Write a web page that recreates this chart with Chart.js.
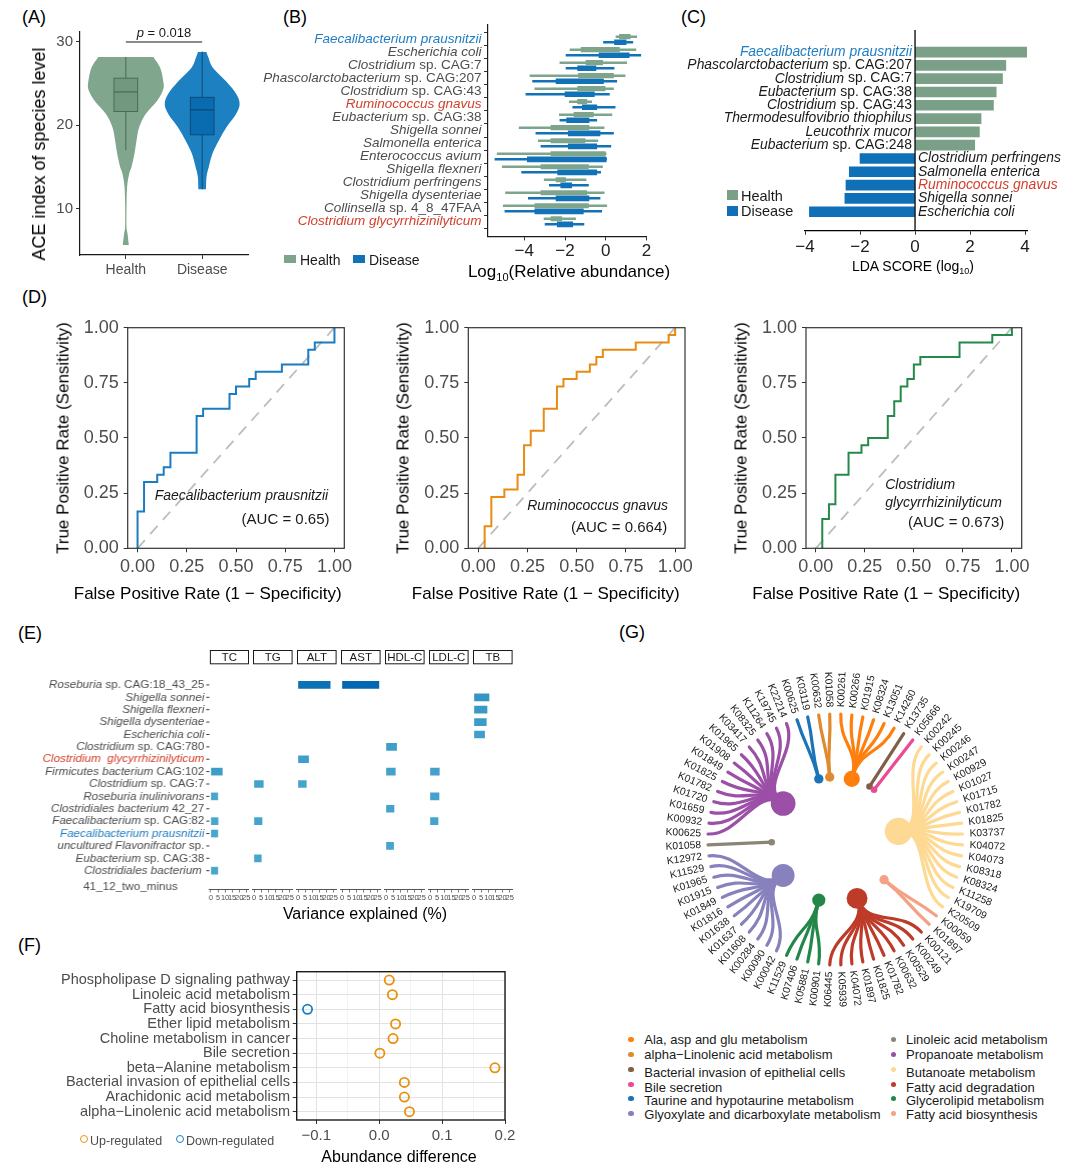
<!DOCTYPE html>
<html>
<head>
<meta charset="utf-8">
<script src="https://cdn.jsdelivr.net/npm/chart.js@4.4.1/dist/chart.umd.min.js"></script>
<style>
html,body{margin:0;padding:0;background:#fff;}
body{position:relative;width:1080px;height:1172px;overflow:hidden;font-family:"Liberation Sans",Arial,sans-serif;}
canvas{position:absolute;}
.t{position:absolute;white-space:nowrap;line-height:1;}
</style>
</head>
<body>
<script>
// ================= DATA =================
// (A) ACE index
const aGroups = ['Health', 'Disease'];
const aHealthViolinValue = [28.2, 26.9, 25.3, 24.3, 22.95, 21.35, 19.76, 18.17, 16.57, 14.98, 14.18, 12.6, 10.2, 7.8, 7.0, 5.6];
const aHealthViolinHalfWidth = [0.36, 0.45, 0.49, 0.49, 0.41, 0.26, 0.175, 0.14, 0.113, 0.074, 0.044, 0.017, 0.009, 0.009, 0.022, 0.04];
const aDiseaseViolinValue = [28.8, 28.1, 26.9, 25.3, 23.7, 22.5, 21.3, 19.8, 18.2, 16.6, 15.0, 13.8, 12.3];
const aDiseaseViolinHalfWidth = [0.055, 0.083, 0.14, 0.31, 0.45, 0.49, 0.44, 0.32, 0.22, 0.135, 0.087, 0.057, 0.05];
const aHealthBox = [17.0, 21.65, 24.0, 25.65, 28.2];   // min, q1, median, q3, max
const aDiseaseBox = [12.3, 18.85, 21.85, 23.35, 28.85];
const aPText = '= 0.018';
const aYTicks = [10, 20, 30];

// (B) log10 relative abundance
const bSpecies = ['*Faecalibacterium prausnitzii*', '*Escherichia coli*', '*Clostridium* sp. CAG:7', '*Phascolarctobacterium* sp. CAG:207',
  '*Clostridium* sp. CAG:43', '*Ruminococcus gnavus*', '*Eubacterium* sp. CAG:38', '*Shigella sonnei*', '*Salmonella enterica*',
  '*Enterococcus avium*', '*Shigella flexneri*', '*Clostridium perfringens*', '*Shigella dysenteriae*', '*Collinsella* sp. 4_8_47FAA',
  '*Clostridium glycyrrhizinilyticum*'];
const bHealthLow  = [0.5, -1.75, -2.25, -3.72, -3.48, -1.79, -2.28, -4.25, -3.31, -5.33, -5.08, -3.02, -4.92, -5.03, -3.03];
const bHealthQ1   = [0.67, -1.21, -0.97, -1.34, -1.38, -1.38, -1.56, -2.69, -2.69, -2.69, -3.18, -2.44, -3.18, -3.48, -2.69];
const bHealthQ3   = [1.2, 0.67, -0.15, 0.38, -0.03, -0.93, -0.61, -0.82, -1.02, 0.0, -0.85, -1.97, -0.93, -0.85, -2.16];
const bHealthHigh = [1.52, 1.48, 1.03, 0.95, 0.38, -0.69, 0.3, -0.08, -0.39, 0.02, -0.16, -0.97, -0.08, 0.05, -1.48];
const bDiseaseLow  = [-0.11, -1.95, -1.95, -3.59, -3.92, -1.62, -2.25, -3.43, -3.18, -5.44, -4.13, -2.77, -3.8, -4.95, -2.98];
const bDiseaseQ1   = [0.43, -0.33, -1.38, -2.44, -2.0, -1.15, -1.92, -1.84, -1.84, -3.85, -2.36, -2.21, -2.44, -3.48, -2.38];
const bDiseaseQ3   = [1.0, 1.15, -0.48, -0.11, -0.56, -0.44, -0.82, -0.28, -0.44, 0.02, -0.44, -1.67, -0.82, -1.1, -1.62];
const bDiseaseHigh = [1.33, 1.72, 0.41, 0.54, 0.18, 0.46, -0.44, 0.38, 0.25, 0.04, -0.25, -0.85, -0.28, -0.2, -1.07];
const bXTicks = [-4, -2, 0, 2];

// (C) LDA scores
const cSpecies = ['*Faecalibacterium prausnitzii*', '*Phascolarctobacterium* sp. CAG:207', '*Clostridium* sp. CAG:7', '*Eubacterium* sp. CAG:38',
  '*Clostridium* sp. CAG:43', '*Thermodesulfovibrio thiophilus*', '*Leucothrix mucor*', '*Eubacterium* sp. CAG:248',
  '*Clostridium perfringens*', '*Salmonella enterica*', '*Ruminococcus gnavus*', '*Shigella sonnei*', '*Escherichia coli*'];
const cLDA = [4.08, 3.30, 3.18, 2.95, 2.85, 2.40, 2.34, 2.17, -2.00, -2.39, -2.51, -2.55, -3.84];
const cXTicks = [-4, -2, 0, 2, 4];

// (D) ROC curves
const dFprFaecali = [0, 0, 0.033, 0.1, 0.133, 0.167, 0.3, 0.333, 0.467, 0.5, 0.567, 0.6, 0.733, 0.867, 0.9, 1.0];
const dTprFaecali = [0, 0.167, 0.3, 0.333, 0.367, 0.433, 0.6, 0.633, 0.7, 0.733, 0.767, 0.8, 0.833, 0.9, 0.933, 1.0];
const dFprRumino = [0.033, 0.033, 0.067, 0.133, 0.2, 0.233, 0.267, 0.333, 0.4, 0.433, 0.5, 0.567, 0.6, 0.633, 0.8, 0.967, 1.0];
const dTprRumino = [0, 0.1, 0.233, 0.267, 0.333, 0.467, 0.533, 0.633, 0.733, 0.767, 0.8, 0.833, 0.867, 0.9, 0.933, 0.967, 1.0];
const dFprClost = [0.033, 0.033, 0.067, 0.1, 0.167, 0.233, 0.267, 0.367, 0.4, 0.433, 0.467, 0.5, 0.533, 0.733, 0.9, 1.0];
const dTprClost = [0, 0.133, 0.2, 0.333, 0.433, 0.467, 0.5, 0.6, 0.667, 0.733, 0.767, 0.833, 0.867, 0.933, 0.967, 1.0];
const dTicks = [0, 0.25, 0.5, 0.75, 1];
const dAUC = ['0.65', '0.664', '0.673'];

// (E) variance explained (%)
const eFacets = ['TC', 'TG', 'ALT', 'AST', 'HDL-C', 'LDL-C', 'TB'];
const eSpecies = ['*Roseburia* sp. CAG:18_43_25', '*Shigella sonnei*', '*Shigella flexneri*', '*Shigella dysenteriae*', '*Escherichia coli*',
  '*Clostridium* sp. CAG:780', '*Clostridium  glycyrrhizinilyticum*', '*Firmicutes bacterium* CAG:102', '*Clostridium* sp. CAG:7',
  '*Roseburia inulinivorans*', '*Clostridiales bacterium* 42_27', '*Faecalibacterium* sp. CAG:82', '*Faecalibacterium prausnitzii*',
  '*uncultured Flavonifractor* sp.', '*Eubacterium* sp. CAG:38', '*Clostridiales bacterium*\n41_12_two_minus'];
const eTC  = [null, null, null, null, null, null, null, 8.1, null, 4.9, null, 5.1, 4.9, null, null, 4.9];
const eTG  = [null, null, null, null, null, null, null, null, 6.5, null, null, 5.6, null, null, 5.1, null];
const eALT = [22.5, null, null, null, null, null, 7.4, null, 5.8, null, null, null, null, null, null, null];
const eAST = [25.8, null, null, null, null, null, null, null, null, null, null, null, null, null, null, null];
const eHDL = [null, null, null, null, null, 7.4, null, 6.5, null, null, 5.6, null, null, 5.3, null, null];
const eLDL = [null, null, null, null, null, null, null, 6.5, null, 6.3, null, 5.6, null, null, null, null];
const eTB  = [null, 10.5, 9.1, 8.6, 7.4, null, null, null, null, null, null, null, null, null, null, null];
const eXTicks = [0, 5, 10, 15, 20, 25];

// (F) KEGG pathway abundance difference
const fPathways = ['Phospholipase D signaling pathway', 'Linoleic acid metabolism', 'Fatty acid biosynthesis', 'Ether lipid metabolism',
  'Choline metabolism in cancer', 'Bile secretion', 'beta\u2212Alanine metabolism', 'Bacterial invasion of epithelial cells',
  'Arachidonic acid metabolism', 'alpha\u2212Linolenic acid metabolism'];
const fDiff = [0.016, 0.021, -0.114, 0.026, 0.022, 0.001, 0.184, 0.040, 0.040, 0.048];
const fXTicks = [-0.1, -0.05, 0, 0.05, 0.1, 0.15, 0.2];

// (G) KO -> pathway tree
const gPathways = ['Ala, asp and glu metabolism', 'alpha\u2212Linolenic acid metabolism', 'Bacterial invasion of epithelial cells', 'Bile secretion',
  'Taurine and hypotaurine metabolism', 'Glyoxylate and dicarboxylate metabolism', 'Linoleic acid metabolism', 'Propanoate metabolism',
  'Butanoate metabolism', 'Fatty acid degradation', 'Glycerolipid metabolism', 'Fatty acid biosynthesis'];
const gAla = ['K00261', 'K00266', 'K01915', 'K08324', 'K13051', 'K14260'];
const gAlphaLin = ['K00632', 'K01058'];
const gBact = ['K13735'];
const gBile = ['K05666'];
const gTaurine = ['K00625', 'K03119'];
const gGlyox = ['K00042', 'K00090', 'K00284', 'K01608', 'K01637', 'K01638', 'K01816', 'K01849', 'K01915', 'K01965', 'K11529', 'K12972'];
const gLinoleic = ['K01058'];
const gPropanoate = ['K00625', 'K00932', 'K01659', 'K01720', 'K01782', 'K01825', 'K01849', 'K01908', 'K01965', 'K03417', 'K08325', 'K11264', 'K19745', 'K22214'];
const gButanoate = ['K00242', 'K00245', 'K00246', 'K00247', 'K00929', 'K01027', 'K01715', 'K01782', 'K01825', 'K03737', 'K04072', 'K04073', 'K08318', 'K08324', 'K11258', 'K19709', 'K20509'];
const gFAdeg = ['K00121', 'K00249', 'K00529', 'K00632', 'K01782', 'K01825', 'K01897', 'K04072', 'K05939', 'K06445'];
const gGlycerolipid = ['K00901', 'K05881', 'K07406', 'K11529'];
const gFAbio = ['K00059', 'K01897'];

// ================= STYLE / SETUP =================
const FONT = '"Liberation Sans", Arial, Helvetica, sans-serif';
const GRAY_TXT = '#4d4d4d';
const BLUE_TXT = '#1f7dc1';
const RED_TXT = '#d2402d';
const HEALTH = '#7fa48c';
const DISEASE = '#1172b8';
const gColors = ['#ff7f0e', '#e08a30', '#7f5f46', '#ec4a93', '#1b74b8', '#8781bd', '#8c8476', '#9b4fa7', '#fdd994', '#bf3b29', '#23874a', '#f3a286'];
const gRing = [gAla, gBact, gBile, gButanoate, gFAbio, gFAdeg, gGlycerolipid, gGlyox, gLinoleic, gPropanoate, gTaurine, gAlphaLin];
const gRingPathway = [0, 2, 3, 8, 11, 9, 10, 5, 6, 7, 4, 1];

Chart.defaults.font.family = FONT;
Chart.defaults.color = GRAY_TXT;
Chart.defaults.animation = false;
Chart.defaults.responsive = false;
Chart.defaults.maintainAspectRatio = false;
Chart.defaults.plugins.legend.display = false;
Chart.defaults.plugins.tooltip.enabled = false;
Chart.defaults.events = [];

// Creates a chart whose plot area lands exactly on `area` (page pixels).
function makeChart(box, area, config) {
  const cv = document.createElement('canvas');
  cv.width = box.w; cv.height = box.h;
  cv.style.left = box.x + 'px'; cv.style.top = box.y + 'px';
  cv.style.width = box.w + 'px'; cv.style.height = box.h + 'px';
  document.body.appendChild(cv);
  config.options = config.options || {};
  const left = area.l - box.x, top = area.t - box.y, right = box.x + box.w - area.r, bottom = box.y + box.h - area.b;
  const pad = { left: left, top: top, right: right, bottom: bottom };
  const scales = config.options.scales || {};
  Object.keys(scales).forEach(k => {
    const s = scales[k];
    if (s.display === false) return;
    if (k === 'x') { pad.bottom = 0; s.afterFit = sc => { sc.height = bottom; }; }
    else { pad.left = 0; s.afterFit = sc => { sc.width = left; }; }
  });
  config.options.layout = { padding: pad };
  return new Chart(cv, config);
}

function txt(html, x, y, o) {
  o = o || {};
  const d = document.createElement('div');
  d.className = 't'; d.innerHTML = html;
  d.style.left = x + 'px'; d.style.top = y + 'px';
  d.style.fontSize = (o.size || 14) + 'px';
  d.style.color = o.color || '#000';
  if (o.italic) d.style.fontStyle = 'italic';
  const ax = o.align === 'left' ? '0%' : (o.align === 'right' ? '-100%' : '-50%');
  d.style.transform = 'translate(' + ax + ',-50%)' + (o.rot ? ' rotate(' + o.rot + 'deg)' : '');
  document.body.appendChild(d);
  return d;
}
function rect(x, y, w, h, css) {
  const d = document.createElement('div');
  d.style.cssText = 'position:absolute;left:' + x + 'px;top:' + y + 'px;width:' + w + 'px;height:' + h + 'px;' + css;
  document.body.appendChild(d);
}

function drawRich(ctx, s, x, y, align, size, color) {
  const segs = [];
  s.split('*').forEach((p, i) => { if (p.length) segs.push({ t: p, it: i % 2 === 1 }); });
  ctx.save();
  ctx.fillStyle = color; ctx.textBaseline = 'middle'; ctx.textAlign = 'left';
  let total = 0;
  segs.forEach(g => { ctx.font = (g.it ? 'italic ' : '') + size + 'px ' + FONT; g.w = ctx.measureText(g.t).width; total += g.w; });
  let cx = align === 'right' ? x - total : (align === 'center' ? x - total / 2 : x);
  segs.forEach(g => { ctx.font = (g.it ? 'italic ' : '') + size + 'px ' + FONT; ctx.fillText(g.t, cx, y); cx += g.w; });
  ctx.restore();
}

const axisGrid = { drawOnChartArea: false, drawTicks: true, tickLength: 4, tickColor: '#333', tickWidth: 1 };
const minusFmt = v => (v < 0 ? '\u2212' : '') + Math.abs(v);
const fixedTicks = arr => (s => { s.ticks = arr.map(v => ({ value: v })); });

// ================= PANEL LABELS =================
txt('(A)', 22, 17, { size: 18, align: 'left' });
txt('(B)', 283, 17, { size: 18, align: 'left' });
txt('(C)', 681, 17, { size: 18, align: 'left' });
txt('(D)', 22, 297, { size: 18, align: 'left' });
txt('(E)', 18, 633, { size: 18, align: 'left' });
txt('(F)', 18, 945, { size: 18, align: 'left' });
txt('(G)', 619, 632, { size: 18, align: 'left' });

// ================= (A) =================
function smoothPath(ctx, pts, first) {
  if (first) ctx.moveTo(pts[0][0], pts[0][1]); else ctx.lineTo(pts[0][0], pts[0][1]);
  for (let i = 0; i < pts.length - 1; i++) {
    const p0 = pts[Math.max(i - 1, 0)], p1 = pts[i], p2 = pts[i + 1], p3 = pts[Math.min(i + 2, pts.length - 1)];
    ctx.bezierCurveTo(p1[0] + (p2[0] - p0[0]) / 6, p1[1] + (p2[1] - p0[1]) / 6,
                      p2[0] - (p3[0] - p1[0]) / 6, p2[1] - (p3[1] - p1[1]) / 6, p2[0], p2[1]);
  }
}
function drawViolin(ctx, xs, ys, cx, vals, hw, color) {
  const right = vals.map((v, i) => [xs.getPixelForValue(cx + hw[i]), ys.getPixelForValue(v)]);
  const left = vals.map((v, i) => [xs.getPixelForValue(cx - hw[i]), ys.getPixelForValue(v)]).reverse();
  ctx.save(); ctx.beginPath();
  smoothPath(ctx, right, true); smoothPath(ctx, left, false);
  ctx.closePath(); ctx.fillStyle = color; ctx.fill(); ctx.restore();
}
function drawBox(ctx, xs, ys, cx, st, fill, stroke) {
  const [mn, q1, md, q3, mx] = st, hw = 0.155;
  const xl = xs.getPixelForValue(cx - hw), xr = xs.getPixelForValue(cx + hw), xc = xs.getPixelForValue(cx);
  const Y = v => ys.getPixelForValue(v);
  ctx.save();
  ctx.strokeStyle = stroke; ctx.lineWidth = 1;
  ctx.beginPath(); ctx.moveTo(xc, Y(mx)); ctx.lineTo(xc, Y(q3)); ctx.moveTo(xc, Y(q1)); ctx.lineTo(xc, Y(mn)); ctx.stroke();
  ctx.fillStyle = fill; ctx.fillRect(xl, Y(q3), xr - xl, Y(q1) - Y(q3));
  ctx.strokeRect(xl, Y(q3), xr - xl, Y(q1) - Y(q3));
  ctx.lineWidth = 1.3; ctx.beginPath(); ctx.moveTo(xl, Y(md)); ctx.lineTo(xr, Y(md)); ctx.stroke();
  ctx.restore();
}
const violinPlugin = {
  id: 'violinA',
  afterDatasetsDraw(chart) {
    const { ctx, scales: { x, y } } = chart;
    drawViolin(ctx, x, y, 1, aHealthViolinValue, aHealthViolinHalfWidth, '#80a68d');
    drawViolin(ctx, x, y, 2, aDiseaseViolinValue, aDiseaseViolinHalfWidth, '#1d81c1');
    drawBox(ctx, x, y, 1, aHealthBox, '#72997f', '#4b6b57');
    drawBox(ctx, x, y, 2, aDiseaseBox, '#0a6cb0', '#0f4a78');
    const yb = y.getPixelForValue(30);
    ctx.save(); ctx.strokeStyle = '#1a1a1a'; ctx.lineWidth = 1.1;
    ctx.beginPath(); ctx.moveTo(x.getPixelForValue(1), yb); ctx.lineTo(x.getPixelForValue(2), yb); ctx.stroke();
    ctx.restore();
    const cx = x.getPixelForValue(1.5);
    ctx.save(); ctx.font = '13px ' + FONT; const w2 = ctx.measureText(' ' + aPText).width;
    ctx.font = 'italic 13px ' + FONT; const w1 = ctx.measureText('p').width; ctx.restore();
    drawRich(ctx, '*p* ' + aPText, cx - (w1 + w2) / 2, yb - 9, 'left', 13, '#1a1a1a');
  }
};
makeChart({ x: 0, y: 20, w: 262, h: 280 }, { l: 80, t: 31, r: 248, b: 255 }, {
  type: 'scatter',
  data: { datasets: [] },
  options: {
    scales: {
      x: { type: 'linear', min: 0.4, max: 2.6, afterBuildTicks: fixedTicks([1, 2]),
        ticks: { callback: v => aGroups[Math.round(v) - 1], font: { size: 14 }, color: GRAY_TXT, padding: 3, maxRotation: 0, autoSkip: false },
        grid: axisGrid, border: { display: true, color: '#1a1a1a', width: 1.2 } },
      y: { type: 'linear', min: 4.41, max: 31.2, afterBuildTicks: fixedTicks(aYTicks),
        ticks: { font: { size: 15 }, color: GRAY_TXT, padding: 3, autoSkip: false },
        grid: axisGrid, border: { display: true, color: '#1a1a1a', width: 1.2 } }
    }
  },
  plugins: [violinPlugin]
});
txt('ACE index of species level', 39, 154, { size: 18, rot: -90 });

// ================= (B) =================
const bColor = i => (i === 0 ? BLUE_TXT : (i === 5 || i === 14) ? RED_TXT : GRAY_TXT);
const bLabels = {
  id: 'bLabels',
  afterDraw(chart) {
    const { ctx, chartArea: a, scales: { y } } = chart;
    bSpecies.forEach((s, i) => drawRich(ctx, s, a.left - 6.5, y.getPixelForValue(i), 'right', 13.5, bColor(i)));
  }
};
const bRows = bSpecies.map((_, i) => i);
makeChart({ x: 250, y: 15, w: 420, h: 250 }, { l: 488, t: 24.6, r: 646.7, b: 236.4 }, {
  type: 'bar',
  data: { datasets: [
    { data: bRows.map(i => ({ x: [bHealthLow[i], bHealthHigh[i]], y: i - 0.215 })), backgroundColor: HEALTH, barThickness: 1.8 },
    { data: bRows.map(i => ({ x: [bHealthQ1[i], bHealthQ3[i]], y: i - 0.215 })), backgroundColor: HEALTH, barThickness: 4.5 },
    { data: bRows.map(i => ({ x: [bDiseaseLow[i], bDiseaseHigh[i]], y: i + 0.215 })), backgroundColor: DISEASE, barThickness: 1.8 },
    { data: bRows.map(i => ({ x: [bDiseaseQ1[i], bDiseaseQ3[i]], y: i + 0.215 })), backgroundColor: DISEASE, barThickness: 5 }
  ] },
  options: {
    indexAxis: 'y',
    datasets: { bar: { grouped: false, borderWidth: 0 } },
    scales: {
      x: { type: 'linear', min: -5.78, max: 2.01, afterBuildTicks: fixedTicks(bXTicks),
        ticks: { callback: minusFmt, font: { size: 17 }, color: '#222', padding: 1, maxRotation: 0, autoSkip: false },
        grid: axisGrid, border: { display: true, color: '#1a1a1a', width: 1.2 } },
      y: { type: 'linear', reverse: true, min: -0.6, max: 14.6, afterBuildTicks: fixedTicks(bRows),
        ticks: { display: false }, grid: axisGrid, border: { display: true, color: '#1a1a1a', width: 1.2 } }
    }
  },
  plugins: [bLabels]
});
rect(284, 255, 12, 8, 'background:' + HEALTH);
txt('Health', 300, 259.5, { size: 14, align: 'left', color: '#1a1a1a' });
rect(353, 255, 12, 8, 'background:' + DISEASE);
txt('Disease', 369, 259.5, { size: 14, align: 'left', color: '#1a1a1a' });
txt('Log<span style="font-size:11px;position:relative;top:4px">10</span>(Relative abundance)', 569, 270.5, { size: 17 });

// ================= (C) =================
const cColor = i => (i === 0 ? BLUE_TXT : i === 10 ? RED_TXT : '#1a1a1a');
const cLabels = {
  id: 'cLabels',
  afterDraw(chart) {
    const { ctx, chartArea: a, scales: { x, y } } = chart;
    const x0 = x.getPixelForValue(0);
    ctx.save(); ctx.strokeStyle = '#000'; ctx.lineWidth = 1.3;
    ctx.beginPath(); ctx.moveTo(x0, a.top); ctx.lineTo(x0, a.bottom); ctx.stroke(); ctx.restore();
    cSpecies.forEach((s, i) => {
      const py = y.getPixelForValue(i);
      if (cLDA[i] > 0) drawRich(ctx, s, x0 - 3, py, 'right', 13.9, cColor(i));
      else drawRich(ctx, s, x0 + 3, py, 'left', 13.9, cColor(i));
    });
  }
};
makeChart({ x: 680, y: 20, w: 400, h: 250 }, { l: 805, t: 30, r: 1027, b: 230.7 }, {
  type: 'bar',
  data: { datasets: [
    { data: cLDA.map((v, i) => ({ x: v, y: i })), backgroundColor: cLDA.map(v => v > 0 ? '#7aa088' : '#0f70b7'), barThickness: 10 }
  ] },
  options: {
    indexAxis: 'y',
    datasets: { bar: { grouped: false, borderWidth: 0 } },
    scales: {
      x: { type: 'linear', min: -4, max: 4.07, afterBuildTicks: fixedTicks(cXTicks),
        ticks: { callback: minusFmt, font: { size: 17 }, color: '#1a1a1a', padding: 2, maxRotation: 0, autoSkip: false },
        grid: axisGrid, border: { display: true, color: '#000', width: 1.3 } },
      y: { type: 'linear', display: false, reverse: true, min: -0.58, max: 12.35 }
    }
  },
  plugins: [cLabels]
});
rect(727, 190, 10.5, 10, 'background:#7aa088');
txt('Health', 741, 195.5, { size: 14.5, align: 'left', color: '#1a1a1a' });
rect(727, 205.5, 10.5, 10, 'background:#0f70b7');
txt('Disease', 741, 211, { size: 14.5, align: 'left', color: '#1a1a1a' });
txt('LDA SCORE (log<span style="font-size:9px;position:relative;top:3px">10</span>)', 913, 266, { size: 14 });

// ================= (D) =================
function rocChart(box, area, fpr, tpr, color, notes) {
  const plug = {
    id: 'rocDeco',
    afterDraw(chart) {
      const { ctx, chartArea: a, scales: { x, y } } = chart;
      ctx.save(); ctx.strokeStyle = '#333'; ctx.lineWidth = 1.2;
      ctx.strokeRect(a.left, a.top, a.right - a.left, a.bottom - a.top); ctx.restore();
      notes.forEach(n => drawRich(ctx, n.t, x.getPixelForValue(n.x), y.getPixelForValue(n.y), n.align, n.size, '#1a1a1a'));
    }
  };
  makeChart(box, area, {
    type: 'scatter',
    data: { datasets: [
      { data: fpr.map((v, i) => ({ x: v, y: tpr[i] })), showLine: true, stepped: true, borderColor: color, borderWidth: 2,
        pointRadius: 0, fill: false, clip: 6 },
      { data: [{ x: 0, y: 0 }, { x: 1, y: 1 }], showLine: true, borderColor: '#bdbdbd', borderWidth: 1.8, borderDash: [11, 8],
        pointRadius: 0, fill: false }
    ] },
    options: {
      scales: {
        x: { type: 'linear', min: -0.05, max: 1.05, afterBuildTicks: fixedTicks(dTicks),
          ticks: { callback: v => v.toFixed(2), font: { size: 18 }, color: GRAY_TXT, padding: 4, maxRotation: 0, autoSkip: false },
          grid: axisGrid, border: { display: false } },
        y: { type: 'linear', min: 0, max: 1, afterBuildTicks: fixedTicks(dTicks),
          ticks: { callback: v => v.toFixed(2), font: { size: 18 }, color: GRAY_TXT, padding: 5, autoSkip: false },
          grid: axisGrid, border: { display: false } }
      }
    },
    plugins: [plug]
  });
}
rocChart({ x: 40, y: 310, w: 330, h: 275 }, { l: 127.7, t: 327.7, r: 344.3, b: 548.3 }, dFprFaecali, dTprFaecali, '#1b7cc1',
  [{ t: '*Faecalibacterium prausnitzii*', x: 0.968, y: 0.237, align: 'right', size: 14 },
   { t: '(AUC = ' + dAUC[0] + ')', x: 0.975, y: 0.128, align: 'right', size: 15 }]);
rocChart({ x: 380, y: 310, w: 330, h: 275 }, { l: 468.3, t: 327.7, r: 685, b: 548.3 }, dFprRumino, dTprRumino, '#e88b12',
  [{ t: '*Ruminococcus gnavus*', x: 0.964, y: 0.189, align: 'right', size: 14 },
   { t: '(AUC = ' + dAUC[1] + ')', x: 0.96, y: 0.092, align: 'right', size: 15 }]);
rocChart({ x: 720, y: 310, w: 355, h: 275 }, { l: 806, t: 327.7, r: 1021.7, b: 548.3 }, dFprClost, dTprClost, '#238a4a',
  [{ t: '*Clostridium*', x: 0.354, y: 0.287, align: 'left', size: 14 },
   { t: '*glycyrrhizinilyticum*', x: 0.354, y: 0.205, align: 'left', size: 14 },
   { t: '(AUC = ' + dAUC[2] + ')', x: 0.961, y: 0.116, align: 'right', size: 15 }]);
[63.3, 403.3, 740.5].forEach(x => txt('True Positive Rate (Sensitivity)', x, 438, { size: 17, rot: -90 }));
[207.7, 545.8, 886.2].forEach(x => txt('False Positive Rate (1 \u2212 Specificity)', x, 592.7, { size: 17 }));

// ================= (E) =================
const eColor = i => (i === 6 ? RED_TXT : i === 12 ? BLUE_TXT : GRAY_TXT);
const eValues = [eTC, eTG, eALT, eAST, eHDL, eLDL, eTB];
function eFill(v) {
  const t = Math.max(0, Math.min(1, (v - 5) / 21));
  const c0 = [72, 166, 205], c1 = [0, 102, 176];
  return 'rgb(' + c0.map((c, k) => Math.round(c + (c1[k] - c) * t)).join(',') + ')';
}
const eLabels = {
  id: 'eLabels',
  afterDraw(chart) {
    const { ctx, chartArea: a, scales: { y } } = chart;
    eSpecies.forEach((s, i) => {
      const py = y.getPixelForValue(i);
      const lines = s.split('\n');
      drawRich(ctx, lines[0], a.left - (lines.length > 1 ? 8 : 5.5), py, 'right', 11.6, eColor(i));
      if (lines[1]) drawRich(ctx, lines[1], a.left - 32, py + 15.7, 'right', 11.6, GRAY_TXT);
      ctx.save(); ctx.strokeStyle = '#333'; ctx.lineWidth = 1;
      ctx.beginPath(); ctx.moveTo(a.left - 3.5, py); ctx.lineTo(a.left - 0.5, py); ctx.stroke(); ctx.restore();
    });
  }
};
eFacets.forEach((name, k) => {
  const l = 209 + 44 * k, r = l + 39.6;
  const box = k === 0 ? { x: 0, y: 640, w: r + 8, h: 285 } : { x: l - 8, y: 640, w: 55, h: 285 };
  const strip = {
    id: 'strip' + k,
    afterDraw(chart) {
      const { ctx, chartArea: a } = chart;
      ctx.save();
      ctx.fillStyle = '#fff'; ctx.strokeStyle = '#1a1a1a'; ctx.lineWidth = 1;
      ctx.fillRect(a.left, a.top - 15, a.right - a.left, 14.3);
      ctx.strokeRect(a.left + 0.5, a.top - 14.5, a.right - a.left - 1, 13.3);
      ctx.fillStyle = '#1a1a1a'; ctx.font = '11.5px ' + FONT; ctx.textAlign = 'center'; ctx.textBaseline = 'middle';
      ctx.fillText(name, (a.left + a.right) / 2, a.top - 7.6);
      ctx.restore();
    }
  };
  const vals = eValues[k];
  const pts = [];
  vals.forEach((v, i) => { if (v !== null) pts.push({ x: v, y: i }); });
  makeChart(box, { l: l, r: r, t: 665, b: 890 }, {
    type: 'bar',
    data: { datasets: [{ data: pts, backgroundColor: pts.map(p => eFill(p.x)), barThickness: 7 }] },
    options: {
      indexAxis: 'y',
      datasets: { bar: { grouped: false, borderWidth: 0 } },
      scales: {
        x: { type: 'linear', min: -0.7, max: 27, afterBuildTicks: fixedTicks(eXTicks),
          ticks: { font: { size: 7.5 }, color: GRAY_TXT, padding: 1, maxRotation: 0, minRotation: 0, autoSkip: false },
          grid: { drawOnChartArea: false, drawTicks: true, tickLength: 2.5, tickColor: '#555', tickWidth: 0.8 },
          border: { display: true, color: '#555', width: 1.1 } },
        y: { type: 'linear', display: false, reverse: true, min: -0.6, max: 15.55 }
      }
    },
    plugins: k === 0 ? [strip, eLabels] : [strip]
  });
});
txt('Variance explained (%)', 365, 914, { size: 16 });

// ================= (F) =================
const isMajorF = v => Math.abs(v * 10 - Math.round(v * 10)) < 1e-6;
const fmtF = v => (Math.abs(v) < 1e-9 ? '0.0' : (v < 0 ? '\u2212' : '') + Math.abs(v).toFixed(1));
const fBorder = {
  id: 'fBorder',
  afterDraw(chart) {
    const { ctx, chartArea: a } = chart;
    ctx.save(); ctx.strokeStyle = '#1a1a1a'; ctx.lineWidth = 1.4;
    ctx.strokeRect(a.left, a.top, a.right - a.left, a.bottom - a.top); ctx.restore();
  }
};
makeChart({ x: 0, y: 960, w: 545, h: 190 }, { l: 296.7, t: 971.7, r: 505, b: 1120 }, {
  type: 'scatter',
  data: { datasets: [{
    data: fDiff.map((v, i) => ({ x: v, y: i })),
    pointRadius: 4.6, pointBorderWidth: 1.8, pointBackgroundColor: 'rgba(255,255,255,0)',
    pointBorderColor: fDiff.map(v => v >= 0 ? '#e8900f' : '#1f7ec2'), clip: false
  }] },
  options: {
    scales: {
      x: { type: 'linear', min: -0.1312, max: 0.2, afterBuildTicks: fixedTicks(fXTicks),
        ticks: { callback: v => isMajorF(v) ? fmtF(v) : '', font: { size: 15 }, color: GRAY_TXT, padding: 3, maxRotation: 0, autoSkip: false },
        grid: { drawOnChartArea: true, drawTicks: true, tickLength: 4,
          color: c => (c.tick && isMajorF(c.tick.value)) ? '#e2e2e2' : '#efefef',
          lineWidth: c => (c.tick && isMajorF(c.tick.value)) ? 1 : 0.7,
          tickColor: c => (c.tick && isMajorF(c.tick.value)) ? '#333' : 'rgba(0,0,0,0)' },
        border: { display: false } },
      y: { type: 'linear', reverse: true, min: -0.57, max: 9.57, afterBuildTicks: fixedTicks(fPathways.map((_, i) => i)),
        ticks: { callback: v => fPathways[Math.round(v)], font: { size: 14.5 }, color: GRAY_TXT, padding: 2.7, autoSkip: false },
        grid: { drawOnChartArea: true, drawTicks: true, tickLength: 4, color: '#e2e2e2', tickColor: '#333' },
        border: { display: false } }
    }
  },
  plugins: [fBorder]
});
rect(79.6, 1135.3, 6.2, 6.2, 'border:1.6px solid #e8900f;border-radius:50%;');
txt('Up-regulated', 90, 1140.5, { size: 12.5, align: 'left', color: GRAY_TXT });
rect(176.3, 1135.3, 6.2, 6.2, 'border:1.6px solid #1f7ec2;border-radius:50%;');
txt('Down-regulated', 186, 1140.5, { size: 12.5, align: 'left', color: GRAY_TXT });
txt('Abundance difference', 399, 1157, { size: 16 });

// ================= (G) =================
const gLeaves = [];
gRing.forEach((kos, gi) => kos.forEach(ko => gLeaves.push({ ko: ko, p: gRingPathway[gi] })));
const gStep = 2 * Math.PI / gLeaves.length;
gLeaves.forEach((L, i) => { L.th = (i + 0.5) * gStep; });
const gHubs = gRingPathway.map(p => {
  const ls = gLeaves.filter(L => L.p === p);
  const th = ls.reduce((s, L) => s + L.th, 0) / ls.length;
  return { p: p, th: th, n: ls.length };
});
const gHubAngle = {};
gHubs.forEach(h => { gHubAngle[h.p] = h.th; });
const CX = 835, CY = 840, RR = 135;
const gTree = {
  id: 'gTree',
  beforeDatasetsDraw(chart) {
    const { ctx, scales: { x, y } } = chart;
    const P = (th, r) => [x.getPixelForValue(r * Math.sin(th)), y.getPixelForValue(r * Math.cos(th))];
    ctx.save();
    ctx.lineCap = 'round'; ctx.lineWidth = 3.2;
    gLeaves.forEach(L => {
      const h = gHubAngle[L.p];
      const n = gHubs.find(g => g.p === L.p).n;
      ctx.strokeStyle = gColors[L.p];
      ctx.beginPath();
      if (n === 1) {
        const a = P(L.th, 0.5), b = P(L.th, 1);
        ctx.moveTo(a[0], a[1]); ctx.lineTo(b[0], b[1]);
      } else {
        const p0 = P(h, 0.5), p1 = P(h, 0.75), p2 = P(L.th, 0.75), p3 = P(L.th, 1);
        ctx.moveTo(p0[0], p0[1]); ctx.bezierCurveTo(p1[0], p1[1], p2[0], p2[1], p3[0], p3[1]);
      }
      ctx.stroke();
    });
    ctx.fillStyle = '#1a1a1a'; ctx.font = '10.3px ' + FONT; ctx.textBaseline = 'middle';
    gLeaves.forEach(L => {
      const q = P(L.th, 1.055);
      const deg = L.th * 180 / Math.PI;
      ctx.save(); ctx.translate(q[0], q[1]);
      if (deg < 180) { ctx.rotate((deg - 90) * Math.PI / 180); ctx.textAlign = 'left'; }
      else { ctx.rotate((deg + 90) * Math.PI / 180); ctx.textAlign = 'right'; }
      ctx.fillText(L.ko, 0, 0);
      ctx.restore();
    });
    ctx.restore();
  }
};
makeChart({ x: 600, y: 640, w: 480, h: 385 }, { l: 600, t: 640, r: 1080, b: 1025 }, {
  type: 'scatter',
  data: { datasets: [{
    data: gHubs.map(h => ({ x: 0.5 * Math.sin(h.th), y: 0.5 * Math.cos(h.th) })),
    pointRadius: gHubs.map(h => 3.3 * Math.sqrt(h.n)),
    pointBackgroundColor: gHubs.map(h => gColors[h.p]),
    pointBorderWidth: 0, clip: false
  }] },
  options: {
    scales: {
      x: { type: 'linear', display: false, min: (600 - CX) / RR, max: (1080 - CX) / RR },
      y: { type: 'linear', display: false, min: -(1025 - CY) / RR, max: (CY - 640) / RR }
    }
  },
  plugins: [gTree]
});
const gLegDotY = [1039.3, 1054.3, 1069.3, 1084.3, 1098.3, 1113.3];
const gLegTxtY = [1039.3, 1054.3, 1072.3, 1086.7, 1100, 1114.3];
gPathways.forEach((name, i) => {
  const col = i < 6 ? 0 : 1, row = i % 6;
  const dx = col === 0 ? 631 : 893.3, tx = col === 0 ? 644.3 : 906;
  rect(dx - 2.8, gLegDotY[row] - 2.8, 5.6, 5.6, 'background:' + gColors[i] + ';border-radius:50%;');
  txt(name, tx, gLegTxtY[row], { size: 13, align: 'left', color: '#1a1a1a' });
});
</script>
</body>
</html>
